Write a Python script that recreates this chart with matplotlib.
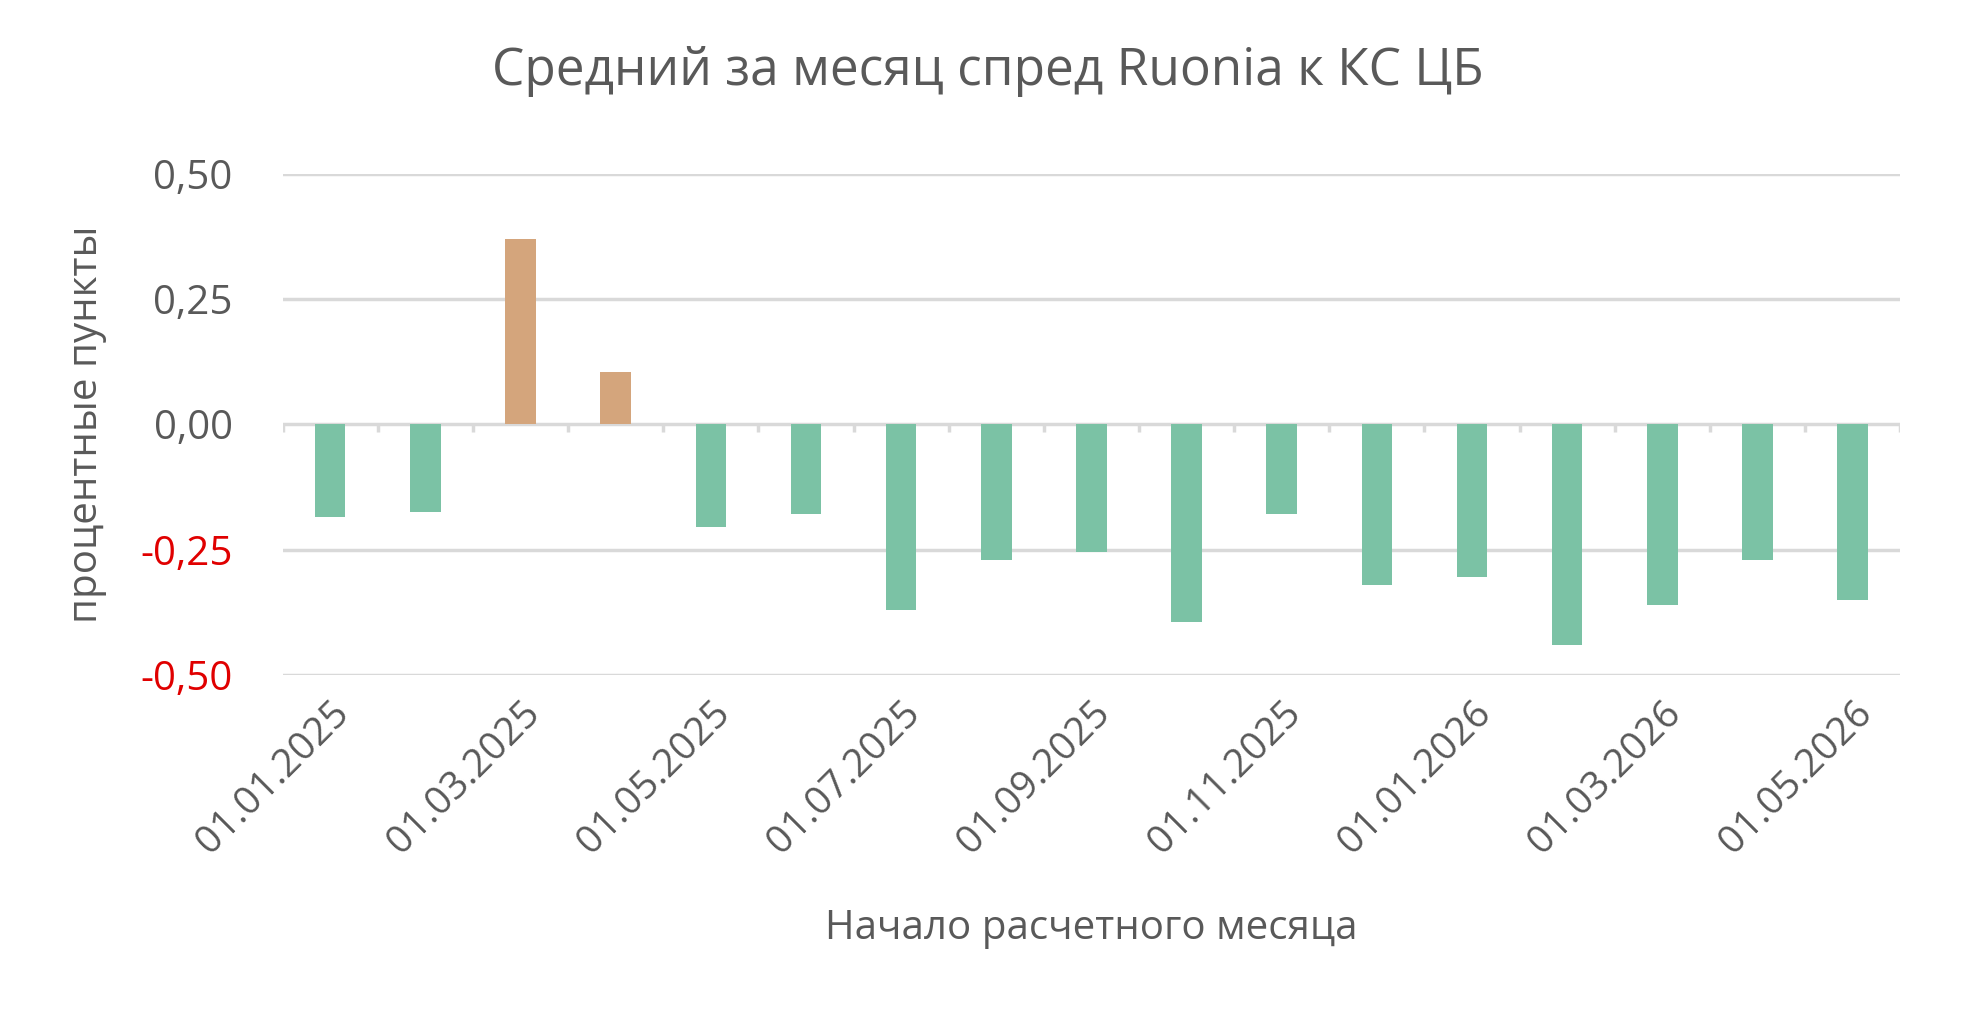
import matplotlib
matplotlib.use("Agg")
import matplotlib.pyplot as plt
import numpy as np

dates = ["01.01.2025","01.02.2025","01.03.2025","01.04.2025","01.05.2025","01.06.2025",
         "01.07.2025","01.08.2025","01.09.2025","01.10.2025","01.11.2025","01.12.2025",
         "01.01.2026","01.02.2026","01.03.2026","01.04.2026","01.05.2026"]
values = [-0.185,-0.175,0.37,0.105,-0.205,-0.18,-0.37,-0.27,-0.255,-0.395,-0.18,-0.32,
          -0.305,-0.44,-0.36,-0.27,-0.35]

plt.rcParams['font.family'] = ['Open Sans', 'DejaVu Sans']
fig = plt.figure(figsize=(19.63, 10.21), dpi=100)
ax = fig.add_axes([0.144, 0.339, 0.824, 0.491])
x = np.arange(len(values))
colors = ['#D4A57C' if v > 0 else '#7BC2A5' for v in values]
ax.bar(x, values, width=0.32, color=colors, zorder=3)
ax.set_xlim(-0.5, len(values) - 0.5)
ax.set_ylim(-0.5, 0.5)
yt = [-0.5, -0.25, 0, 0.25, 0.5]
ax.set_yticks(yt)
ax.set_yticklabels([f"{v:.2f}".replace('.', ',') for v in yt], fontsize=29, color='#595959')
for lbl, v in zip(ax.get_yticklabels(), yt):
    if v < 0:
        lbl.set_color('#E00000')
ax.tick_params(axis='y', length=0, pad=36)
for v in yt:
    ax.axhline(v, color='#D9D9D9', lw=2.5, zorder=1)
ax.vlines(np.arange(len(values) + 1) - 0.5, -0.015, 0, color='#D9D9D9', lw=2.5, zorder=1)
ax.set_xticks(x[::2])
ax.set_xticklabels(dates[::2], rotation=45, ha='right', rotation_mode='anchor',
                   fontsize=28, color='#595959')
ax.tick_params(axis='x', length=0, pad=14)
for s in ax.spines.values():
    s.set_visible(False)
ax.set_xlabel("Начало расчетного месяца", fontsize=29, color='#595959', labelpad=34)
ax.set_ylabel("процентные пункты", fontsize=29, color='#595959', labelpad=24)
fig.suptitle("Средний за месяц спред Ruonia к КС ЦБ", fontsize=37, color='#595959', y=0.955, x=0.503)
fig.savefig("out.png", dpi=100)
